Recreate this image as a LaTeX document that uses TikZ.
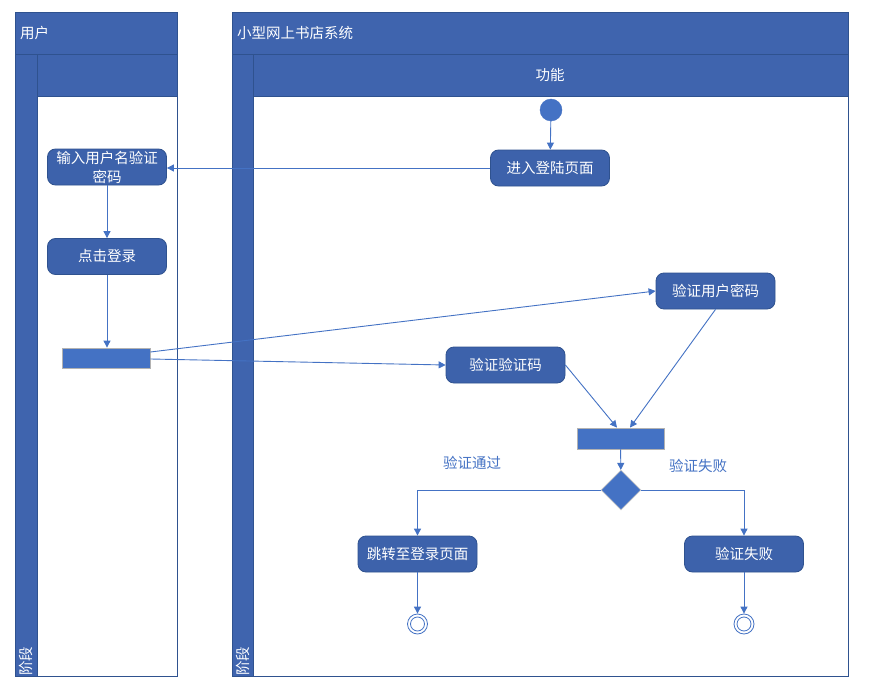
\documentclass[tikz,border=0pt]{standalone}
\usepackage{fontspec}
\setmainfont{Noto Sans CJK SC}
\usetikzlibrary{arrows.meta,shapes.geometric}
\definecolor{lanefill}{HTML}{3F64AE}
\definecolor{laneline}{HTML}{2F528F}
\definecolor{nodefill}{HTML}{3D62AB}
\definecolor{barfill}{HTML}{4472C4}
\definecolor{arr}{HTML}{4472C4}
\begin{document}
\begin{tikzpicture}[x=1pt,y=-1pt,
  lane/.style={draw=laneline,line width=0.8pt,fill=lanefill},
  lanebody/.style={draw=laneline,line width=0.8pt,fill=white},
  txt/.style={font=\fontsize{14.5}{17}\selectfont,text=white,inner sep=0pt},
  act/.style={draw=laneline,line width=0.8pt,fill=nodefill,rounded corners=8pt,
    minimum width=119pt,minimum height=36pt,inner sep=1pt,align=center,
    text=white,font=\fontsize{14.5}{19}\selectfont},
  bar/.style={draw=gray!60,line width=0.8pt,fill=barfill,inner sep=0pt},
  flow/.style={draw=arr,line width=0.9pt,-{Triangle[length=7pt,width=7pt]}},
  lbl/.style={font=\fontsize{14.5}{17}\selectfont,text=arr,inner sep=0pt}]
\useasboundingbox (0,0) rectangle (887,677);
% left lane
\draw[lanebody] (15,12) rectangle (177,676);
\draw[lane] (15,12) rectangle (177,54);
\draw[lane] (37,54) rectangle (177,96);
\draw[lane] (15,54) rectangle (37,676);
\node[txt,anchor=west] (h1) at (20,33) {用户};
\node[txt,rotate=90] (s1) at (26,661) {阶段};
% right lane
\draw[lanebody] (232,12) rectangle (848,676);
\draw[lane] (232,12) rectangle (848,54);
\draw[lane] (253,54) rectangle (848,96);
\draw[lane] (232,54) rectangle (253,676);
\node[txt,anchor=west] (h2) at (237,33) {小型网上书店系统};
\node[txt] (f2) at (550,75) {功能};
\node[txt,rotate=90] (s2) at (243,661) {阶段};
% nodes
\node[circle,fill=barfill,draw=barfill,minimum size=22pt,inner sep=0pt] (start) at (551,110) {};
\node[act] (login) at (550,168) {进入登陆页面};
\node[act] (input) at (107,167) {输入用户名验证\\密码};
\node[act] (click) at (107,256.5) {点击登录};
\node[bar,minimum width=88pt,minimum height=20pt] (bar1) at (106,358) {};
\node[act] (vpw) at (715.5,291) {验证用户密码};
\node[act] (vcode) at (505.5,365) {验证验证码};
\node[bar,minimum width=87pt,minimum height=21pt] (bar2) at (620.5,438.5) {};
\node[diamond,aspect=1,fill=barfill,draw=gray!40,line width=0.6pt,minimum size=40pt,inner sep=0pt] (dec) at (621,490) {};
\node[act] (jump) at (417.5,554) {跳转至登录页面};
\node[act] (fail) at (744,554) {验证失败};
\node[circle,draw=arr,line width=0.8pt,fill=white,minimum size=20pt,inner sep=0pt] (end1) at (417.5,624) {};
\draw[arr,line width=0.8pt] (end1.center) circle (7pt);
\node[circle,draw=arr,line width=0.8pt,fill=white,minimum size=20pt,inner sep=0pt] (end2) at (744,624) {};
\draw[arr,line width=0.8pt] (end2.center) circle (7pt);
\node[lbl] (l1) at (472,463) {验证通过};
\node[lbl] (l2) at (698,466) {验证失败};
% connectors
\draw[flow] (start) -- (login);
\draw[flow] (login) -- (input.east |- login);
\draw[flow] (input) -- (click);
\draw[flow] (click) -- (bar1.north -| click);
\draw[flow] (bar1.east |- 0,352) -- (vpw.west);
\draw[flow] (bar1.east |- 0,359) -- (vcode.west);
\draw[flow] (vcode.east) -- (bar2.north -| 617,0);
\draw[flow] (vpw.south) -- (bar2.north -| 630,0);
\draw[flow] (bar2) -- (dec);
\draw[flow] (dec.west) -| (jump.north);
\draw[flow] (dec.east) -| (fail.north);
\draw[flow] (jump) -- (end1);
\draw[flow] (fail) -- (end2);
\end{tikzpicture}
\end{document}
